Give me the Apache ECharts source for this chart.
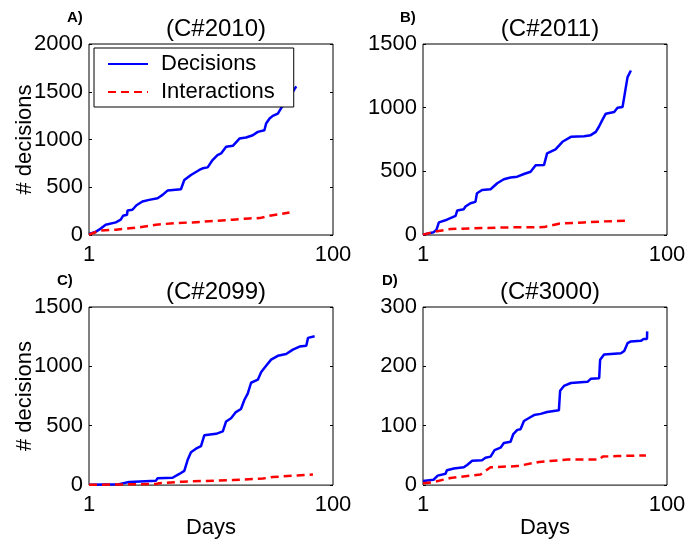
<!DOCTYPE html>
<html>
<head>
<meta charset="utf-8">
<script src="https://cdn.jsdelivr.net/npm/echarts@6/dist/echarts.min.js"></script>
<style>html,body{margin:0;padding:0;background:#fff;}#c{width:699px;height:540px;}</style>
</head>
<body>
<div id="c"></div>
<script>
// ---- data ----
const panelTitles = ['(C#2010)', '(C#2011)', '(C#2099)', '(C#3000)'];
const panelLabels = ['A)', 'B)', 'C)', 'D)'];
const seriesNames = ['Decisions', 'Interactions'];
const xTickLabels = ['1', '100'];

const daysA_dec = [1, 1.13, 1.21, 1.37, 1.66, 1.82, 1.9, 2.05, 2.07, 2.27, 2.45, 2.74, 3.11, 3.65, 4.01, 4.4, 5.67, 6.04, 6.85, 8.02, 8.55, 9.39, 10.3, 11.3, 12.1, 13.3, 15.1, 17.1, 19.4, 22.0, 24.2, 27.4, 28.3, 30.2, 32.1, 35.3, 38.8, 44.0, 50.0];
const decA = [10, 31, 56, 108, 132, 160, 201, 212, 257, 264, 312, 351, 368, 385, 420, 465, 479, 576, 628, 681, 698, 708, 785, 837, 854, 924, 934, 1010, 1021, 1045, 1080, 1097, 1167, 1219, 1247, 1271, 1358, 1444, 1556];
const daysA_int = [1, 1.21, 1.66, 2.58, 3.53, 5.15, 7.06, 11.0, 15.1, 20.6, 25.0, 30.2, 36.4, 44.0];
const intA = [3, 45, 56, 80, 108, 125, 132, 149, 160, 174, 177, 201, 219, 236];

const daysB_dec = [1, 1.22, 1.29, 1.35, 1.57, 1.85, 1.91, 2.16, 2.23, 2.45, 2.69, 2.77, 3.05, 3.58, 4.06, 4.6, 5.22, 5.93, 6.72, 7.62, 8.38, 9.81, 10.4, 12.2, 13.9, 16.3, 20.9, 23.7, 26.1, 27.8, 29.6, 31.5, 36.9, 39.3, 43.2, 44.6, 46.0, 47.5, 50.6];
const decB = [3, 21, 42, 99, 120, 151, 193, 203, 224, 250, 260, 328, 354, 359, 406, 438, 451, 458, 479, 497, 547, 549, 641, 672, 732, 771, 776, 784, 810, 854, 906, 953, 966, 1000, 1005, 1083, 1161, 1240, 1292];
const daysB_int = [1, 1.3, 1.68, 3.15, 5.22, 9.81, 13.0, 20.9, 30.5, 49.0];
const intB = [3, 29, 47, 55, 60, 62, 89, 99, 107, 112];

const daysC_dec = [1, 1.76, 2.13, 3.53, 3.64, 4.84, 5.5, 6.04, 6.43, 6.85, 7.53, 8.28, 8.81, 11.0, 12.5, 13.3, 14.6, 16.0, 17.6, 18.8, 20.0, 21.3, 24.2, 25.8, 28.3, 31.1, 35.3, 41.3, 46.9, 53.2, 60.4, 62.4, 70.7];
const decC = [3, 8, 26, 36, 57, 62, 94, 120, 211, 276, 307, 328, 419, 432, 453, 536, 563, 615, 641, 719, 771, 862, 888, 953, 1005, 1057, 1089, 1104, 1141, 1167, 1174, 1240, 1253];
const daysC_int = [1, 1.76, 3.53, 3.76, 5.85, 15.1, 26.6, 32.1, 50.0, 68.5];
const intC = [3, 5, 10, 16, 29, 42, 55, 68, 81, 89];

const daysD_dec = [1, 1.22, 1.32, 1.53, 1.57, 1.79, 2.16, 2.3, 2.53, 3.05, 3.25, 3.58, 3.86, 4.32, 4.6, 5.22, 5.5, 5.93, 6.3, 6.72, 7.39, 8.13, 9.21, 10.4, 13.0, 13.3, 14.3, 16.3, 22.3, 23.7, 27.8, 28.3, 30.5, 41.9, 44.6, 47.5, 50.6, 61.1, 64.3, 68.5, 68.8];
const decD = [7, 9, 16, 19, 25, 28, 30, 34, 41, 42, 46, 48, 59, 63, 71, 73, 86, 93, 94, 108, 113, 118, 120, 123, 126, 159, 167, 172, 174, 179, 180, 211, 220, 222, 226, 239, 242, 243, 246, 246, 259];
const daysD_int = [1, 1.22, 1.68, 2.96, 3.58, 5.93, 8.93, 15.3, 27.8, 29.6, 39.3, 67.2];
const intD = [3, 5, 12, 18, 30, 32, 39, 43, 43, 48, 49, 50];

const yMax = [2000, 1500, 1500, 300];
const yStep = [500, 500, 500, 100];

// ---- chart ----
const FONT = "'Liberation Sans', Arial, sans-serif";
const panels = [
  {dx: daysA_dec, dy: decA, ix: daysA_int, iy: intA},
  {dx: daysB_dec, dy: decB, ix: daysB_int, iy: intB},
  {dx: daysC_dec, dy: decC, ix: daysC_int, iy: intC},
  {dx: daysD_dec, dy: decD, ix: daysD_int, iy: intD}
];
const gridPos = [
  {left: 89, top: 44, width: 244, height: 191},
  {left: 423, top: 44, width: 244, height: 191},
  {left: 89, top: 307, width: 244, height: 191},
  {left: 423, top: 307, width: 244, height: 191}
];
const labelLeft = [62, 395, 52, 377];
const zip = (xs, ys) => xs.map((x, i) => [x, ys[i]]);

const grid = [], xAxis = [], yAxis = [], series = [], title = [];
gridPos.forEach((g, i) => {
  grid.push(Object.assign({show: true, borderColor: '#000', borderWidth: 1, backgroundColor: '#fff'}, g));
  const cx = g.left + g.width / 2;
  title.push({text: panelTitles[i], left: cx, top: g.top - 32, textAlign: 'center',
    textStyle: {fontFamily: FONT, fontSize: 24, fontWeight: 'normal', color: '#000'}});
  title.push({text: panelLabels[i], left: labelLeft[i], top: g.top - 39,
    textStyle: {fontFamily: FONT, fontSize: 15, fontWeight: 'bold', color: '#000'}});
  const bottom = i >= 2;
  xAxis.push({
    type: 'log', logBase: 10, gridIndex: i, min: 1, max: 100, interval: 2,
    axisLine: {show: false}, axisTick: {show: false}, splitLine: {show: false}, minorTick: {show: false},
    axisLabel: {fontFamily: FONT, fontSize: 22, color: '#000', margin: 9,
      formatter: v => (Math.abs(v - 1) < 1e-9 ? xTickLabels[0] : (Math.abs(v - 100) < 1e-6 ? xTickLabels[1] : ''))},
    name: bottom ? 'Days' : '', nameLocation: 'middle', nameGap: 18,
    nameTextStyle: {fontFamily: FONT, fontSize: 22, color: '#000', verticalAlign: 'top'}
  });
  yAxis.push({
    type: 'value', gridIndex: i, min: 0, max: yMax[i], interval: yStep[i], position: 'left',
    axisLine: {show: false}, splitLine: {show: false},
    axisTick: {show: true, inside: true, length: 3, lineStyle: {color: '#000'}},
    axisLabel: {fontFamily: FONT, fontSize: 22, color: '#000', margin: 6, formatter: v => String(v)},
    name: (i % 2 === 0) ? '# decisions' : '', nameLocation: 'middle', nameGap: 53, nameMoveOverlap: false,
    nameTextStyle: {fontFamily: FONT, fontSize: 22, color: '#000'}
  });
  yAxis.push({
    type: 'value', gridIndex: i, min: 0, max: yMax[i], interval: yStep[i], position: 'right',
    axisLine: {show: false}, splitLine: {show: false}, axisLabel: {show: false},
    axisTick: {show: true, inside: true, length: 3, lineStyle: {color: '#000'}}
  });
  const p = panels[i];
  series.push({
    name: seriesNames[0], type: 'line', xAxisIndex: i, yAxisIndex: 2 * i, symbol: 'none',
    data: zip(p.dx, p.dy), lineStyle: {color: '#0000ff', width: 2.5}, itemStyle: {color: '#0000ff'},
    animation: false, z: 3
  });
  series.push({
    name: seriesNames[1], type: 'line', xAxisIndex: i, yAxisIndex: 2 * i, symbol: 'none',
    data: zip(p.ix, p.iy), lineStyle: {color: '#ff0000', width: 2.5, type: [8, 5]}, itemStyle: {color: '#ff0000'},
    animation: false, z: 4
  });
});

const chart = echarts.init(document.getElementById('c'), null, {renderer: 'canvas'});
chart.setOption({
  animation: false,
  backgroundColor: '#fff',
  title: title,
  grid: grid, xAxis: xAxis, yAxis: yAxis, series: series,
  legend: {
    data: seriesNames, left: 94, top: 48, orient: 'vertical',
    backgroundColor: '#fff', borderColor: '#000', borderWidth: 1,
    padding: [5, 19, 4, 13], itemGap: 6, itemWidth: 40, itemHeight: 2,
    itemStyle: {opacity: 0},
    textStyle: {fontFamily: FONT, fontSize: 22, color: '#000', padding: [0, 0, 0, 8]},
    selectedMode: false, z: 10
  }
});
</script>
</body>
</html>
